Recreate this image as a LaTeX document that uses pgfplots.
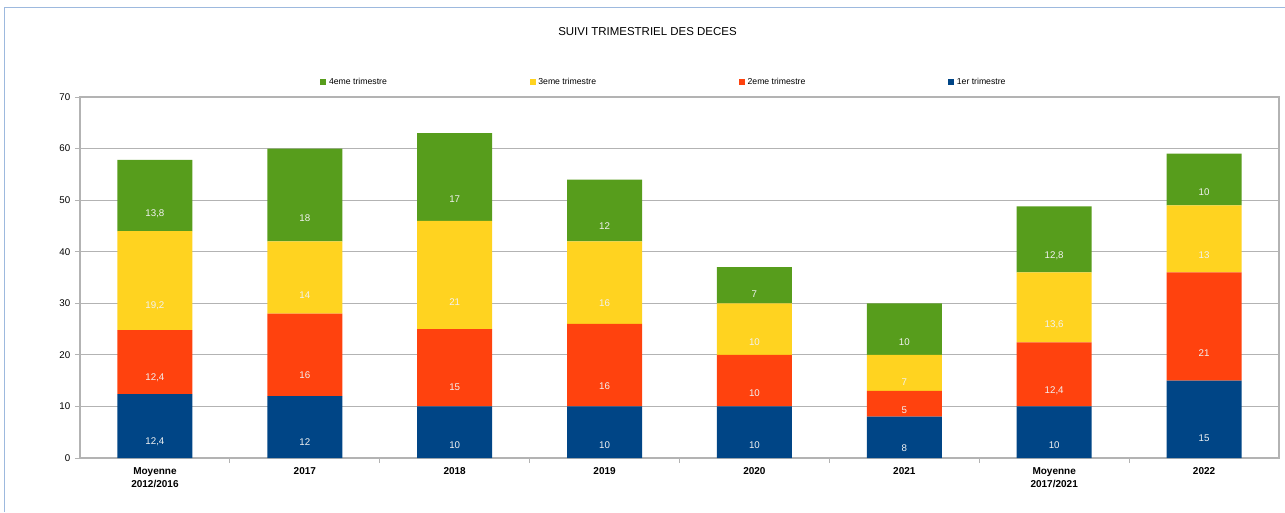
\documentclass[border=0pt]{standalone}
\usepackage{fontspec}
\setmainfont{Liberation Sans}
\usepackage{pgfplots}
\pgfplotsset{compat=1.18}
\definecolor{c1}{HTML}{004586}
\definecolor{c2}{HTML}{FF420E}
\definecolor{c3}{HTML}{FFD320}
\definecolor{c4}{HTML}{579D1C}
\definecolor{gridc}{HTML}{B3B3B3}
\definecolor{frameblue}{HTML}{9DB9DE}
\begin{document}
\begin{tikzpicture}
\useasboundingbox (0,0) rectangle (963.75pt,384pt);
\draw[frameblue, line width=0.75pt] (3pt,0) -- (3pt,378pt) -- (963.75pt,378pt);
\node[font=\fontsize{8.6}{10}\selectfont] at (485.6pt,360pt) {SUIVI TRIMESTRIEL DES DECES};
\begin{axis}[
  at={(60pt,40.5pt)}, anchor=south west,
  scale only axis, width=899.25pt, height=270.75pt,
  ybar stacked, bar width=0.5,
  xmin=-0.5, xmax=7.5, ymin=0, ymax=70,
  xtick={0,...,7},
  xticklabels={{Moyenne\\2012/2016},2017,2018,2019,2020,2021,{Moyenne\\2017/2021},2022},
  xticklabel style={font=\bfseries\fontsize{7.5}{9.75}\selectfont, align=center},
  minor xtick={0.5,1.5,...,6.5},
  ytick={0,10,...,70},
  yticklabel style={font=\fontsize{7.3}{9}\selectfont},
  /pgf/number format/assume math mode=true,
  tick align=outside, tick pos=left,
  major tick length=3.75pt, minor tick length=3.75pt,
  xtick style={draw=none},
  minor x tick style={draw=gridc, line width=0.75pt},
  ytick style={draw=gridc, line width=0.75pt},
  ymajorgrids, major grid style={draw=gridc, line width=0.75pt},
  axis line style={draw=gridc, line width=0.9pt},
  legend columns=4, reverse legend, legend cell align=left,
  legend style={at={(0.2002,1.0416)}, anchor=west, draw=none, fill=none, inner sep=0pt,
    font=\fontsize{6.5}{8}\selectfont,
    /tikz/every even column/.append style={column sep=105pt}},
  legend image code/.code={\path[fill,#1,draw=none] (0pt,-2.3pt) rectangle (4.6pt,2.3pt);},
  nodes near coords={\pgfmathprintnumber[use comma]{\pgfplotspointmeta}},
  visualization depends on=rawy \as \rawy,
  every node near coord/.append style={anchor=center, font=\fontsize{7.3}{9}\selectfont, text=black!5,
    shift={(axis direction cs:0,-\rawy/4)}},
]
\addplot[fill=c1, draw=none] coordinates {(0,12.4) (1,12) (2,10) (3,10) (4,10) (5,8) (6,10) (7,15)};
\addlegendentry{1er trimestre}
\addplot[fill=c2, draw=none] coordinates {(0,12.4) (1,16) (2,15) (3,16) (4,10) (5,5) (6,12.4) (7,21)};
\addlegendentry{2eme trimestre}
\addplot[fill=c3, draw=none] coordinates {(0,19.2) (1,14) (2,21) (3,16) (4,10) (5,7) (6,13.6) (7,13)};
\addlegendentry{3eme trimestre}
\addplot[fill=c4, draw=none] coordinates {(0,13.8) (1,18) (2,17) (3,12) (4,7) (5,10) (6,12.8) (7,10)};
\addlegendentry{4eme trimestre}
\end{axis}
\end{tikzpicture}
\end{document}
